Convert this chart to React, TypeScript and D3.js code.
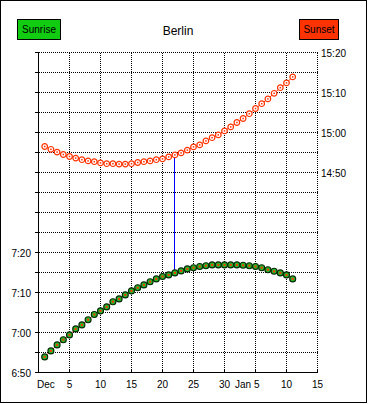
import React, { useRef, useEffect } from 'react';
import * as d3 from 'd3';

// minutes after midnight (UTC), one value per day starting Dec 1
const sunrise = [
  413.9, 415.4, 416.9, 418.2, 419.4, 420.9, 421.9, 423.2, 424.5, 425.4,
  426.4, 427.7, 428.4, 429.4, 430.4, 431.2, 431.9, 432.7, 433.4, 434.0,
  434.4, 434.9, 435.4, 435.9, 436.2, 436.5, 436.7, 436.9, 436.9, 436.9,
  436.9, 436.9, 436.8, 436.7, 436.5, 436.2, 435.7, 435.3, 434.9, 434.4,
  433.4,
];
const sunset = [
  896.5, 895.8, 895.1, 894.5, 894.0, 893.6, 893.2, 892.9, 892.7, 892.4,
  892.2, 892.2, 892.1, 892.1, 892.2, 892.5, 892.7, 892.9, 893.2, 893.4,
  893.9, 894.4, 894.9, 895.6, 896.4, 896.9, 897.9, 898.7, 899.4, 900.4,
  901.4, 902.5, 903.5, 904.7, 906.0, 907.2, 908.4, 909.8, 911.2, 912.4,
  913.9,
];
const firstDay = 1;
const highlightDay = 22;

const xTicks = [0, 5, 10, 15, 20, 25, 30, 35, 40, 45];
const xTickLabels = ['Dec', '5', '10', '15', '20', '25', '30', 'Jan 5', '10', '15'];
const sunriseLabelTicks = [410, 420, 430, 440];
const sunsetLabelTicks = [890, 900, 910, 920];

const title = 'Berlin';
const red = '#ff3300';
const green = '#11cc11';

function fmt(m: number) {
  const h = Math.floor(m / 60);
  const mm = Math.round(m % 60);
  return `${h}:${mm < 10 ? '0' + mm : mm}`;
}

function SunChart() {
  const ref = useRef<SVGSVGElement>(null);

  useEffect(() => {
    const svg = d3.select(ref.current);
    svg.selectAll('*').remove();

    const width = 368, height = 404;
    const font = 'Liberation Sans, Arial, sans-serif';

    svg.append('rect')
      .attr('x', 0.5).attr('y', 0.5)
      .attr('width', width - 2).attr('height', height - 2)
      .attr('fill', 'white').attr('stroke', 'black')
      .attr('shape-rendering', 'crispEdges');

    const x = d3.scaleLinear().domain([0, 45]).range([38.5, 317.5]);
    const yRise = d3.scaleLinear().domain([410, 490]).range([372.5, 52.5]);
    const ySet = d3.scaleLinear().domain([840, 920]).range([372.5, 52.5]);
    const px = (v: number) => Math.floor(v) + 0.5;

    // grid
    const grid = svg.append('g')
      .attr('stroke', 'black')
      .attr('stroke-dasharray', '1,1')
      .attr('shape-rendering', 'crispEdges');
    grid.selectAll('line.v')
      .data(xTicks.slice(1))
      .enter().append('line')
      .attr('x1', (d) => px(x(d))).attr('x2', (d) => px(x(d)))
      .attr('y1', yRise(490)).attr('y2', yRise(410));
    grid.selectAll('line.h')
      .data(d3.range(415, 491, 5))
      .enter().append('line')
      .attr('x1', x(0)).attr('x2', x(45))
      .attr('y1', (d) => yRise(d)).attr('y2', (d) => yRise(d));

    // axes
    const axes = svg.append('g')
      .attr('stroke', 'black')
      .attr('shape-rendering', 'crispEdges');
    axes.append('line')
      .attr('x1', x(0)).attr('x2', x(0))
      .attr('y1', yRise(490) - 0.5).attr('y2', yRise(410) + 0.5);
    axes.append('line')
      .attr('x1', x(0)).attr('x2', x(45) + 0.5)
      .attr('y1', yRise(410)).attr('y2', yRise(410));
    axes.selectAll('line.lt')
      .data(d3.range(410, 491, 5))
      .enter().append('line')
      .attr('x1', x(0) - 4).attr('x2', x(0))
      .attr('y1', (d) => yRise(d)).attr('y2', (d) => yRise(d));
    axes.selectAll('line.bt')
      .data(xTicks)
      .enter().append('line')
      .attr('x1', (d) => px(x(d))).attr('x2', (d) => px(x(d)))
      .attr('y1', yRise(410) - 4).attr('y2', yRise(410));

    svg.selectAll('text.xl')
      .data(xTicks)
      .enter().append('text')
      .attr('x', (d, i) => (i === 0 ? x(d) - 1.5 : i === 7 ? x(d) + 4 : x(d)))
      .attr('y', 388)
      .attr('text-anchor', (d, i) => (i === 0 ? 'start' : i === 7 ? 'end' : 'middle'))
      .attr('font-family', font).attr('font-size', 10)
      .text((d, i) => xTickLabels[i]);

    svg.selectAll('text.yl')
      .data(sunriseLabelTicks)
      .enter().append('text')
      .attr('x', 31).attr('y', (d) => yRise(d) + 4)
      .attr('text-anchor', 'end')
      .attr('font-family', font).attr('font-size', 10)
      .text((d) => fmt(d));

    svg.selectAll('text.yr')
      .data(sunsetLabelTicks)
      .enter().append('text')
      .attr('x', 321).attr('y', (d) => ySet(d) + 4)
      .attr('text-anchor', 'start')
      .attr('font-family', font).attr('font-size', 10)
      .text((d) => fmt(d));

    // highlight line at the solstice
    const hi = highlightDay - firstDay;
    svg.append('line')
      .attr('x1', px(x(highlightDay))).attr('x2', px(x(highlightDay)))
      .attr('y1', ySet(sunset[hi])).attr('y2', yRise(sunrise[hi]))
      .attr('stroke', '#0000ff')
      .attr('shape-rendering', 'crispEdges');

    // sunset series
    const setLine = d3.line<number>()
      .x((d, i) => x(i + firstDay))
      .y((d) => ySet(d));
    svg.append('path')
      .datum(sunset)
      .attr('fill', 'none').attr('stroke', red)
      .attr('d', setLine);
    const setPts = svg.selectAll('g.sp')
      .data(sunset)
      .enter().append('g')
      .attr('transform', (d, i) => `translate(${x(i + firstDay)},${ySet(d)})`);
    setPts.append('circle')
      .attr('r', 2.8).attr('fill', 'white').attr('stroke', red).attr('stroke-width', 1.2);
    setPts.append('rect')
      .attr('x', -0.75).attr('y', -0.75).attr('width', 1.5).attr('height', 1.5)
      .attr('fill', red);

    // sunrise series
    const riseLine = d3.line<number>()
      .x((d, i) => x(i + firstDay))
      .y((d) => yRise(d));
    svg.append('path')
      .datum(sunrise)
      .attr('fill', 'none').attr('stroke', red)
      .attr('d', riseLine);
    const risePts = svg.selectAll('g.rp')
      .data(sunrise)
      .enter().append('g')
      .attr('transform', (d, i) => `translate(${x(i + firstDay)},${yRise(d)})`);
    risePts.append('circle')
      .attr('r', 3).attr('fill', '#28b828').attr('stroke', '#052805').attr('stroke-width', 1.1);
    risePts.append('rect')
      .attr('x', -1).attr('y', -1).attr('width', 2).attr('height', 2)
      .attr('fill', red);

    // title and legend boxes
    svg.append('text')
      .attr('x', 178).attr('y', 35)
      .attr('text-anchor', 'middle')
      .attr('font-family', font).attr('font-size', 12)
      .text(title);

    const legend = [
      { label: 'Sunrise', fill: green, x: 17.5, w: 43 },
      { label: 'Sunset', fill: red, x: 299.5, w: 39 },
    ];
    legend.forEach((l) => {
      svg.append('rect')
        .attr('x', l.x).attr('y', 19.5)
        .attr('width', l.w).attr('height', 20)
        .attr('fill', l.fill).attr('stroke', 'black')
        .attr('shape-rendering', 'crispEdges');
      svg.append('text')
        .attr('x', l.x + l.w / 2).attr('y', 33)
        .attr('text-anchor', 'middle')
        .attr('font-family', font).attr('font-size', 10)
        .text(l.label);
    });
  }, []);

  return (
    <svg
      ref={ref}
      width={368}
      height={404}
      style={{ position: 'absolute', left: 0, top: 0 }}
    ></svg>
  );
}

export default function App() {
  return <SunChart />;
}
